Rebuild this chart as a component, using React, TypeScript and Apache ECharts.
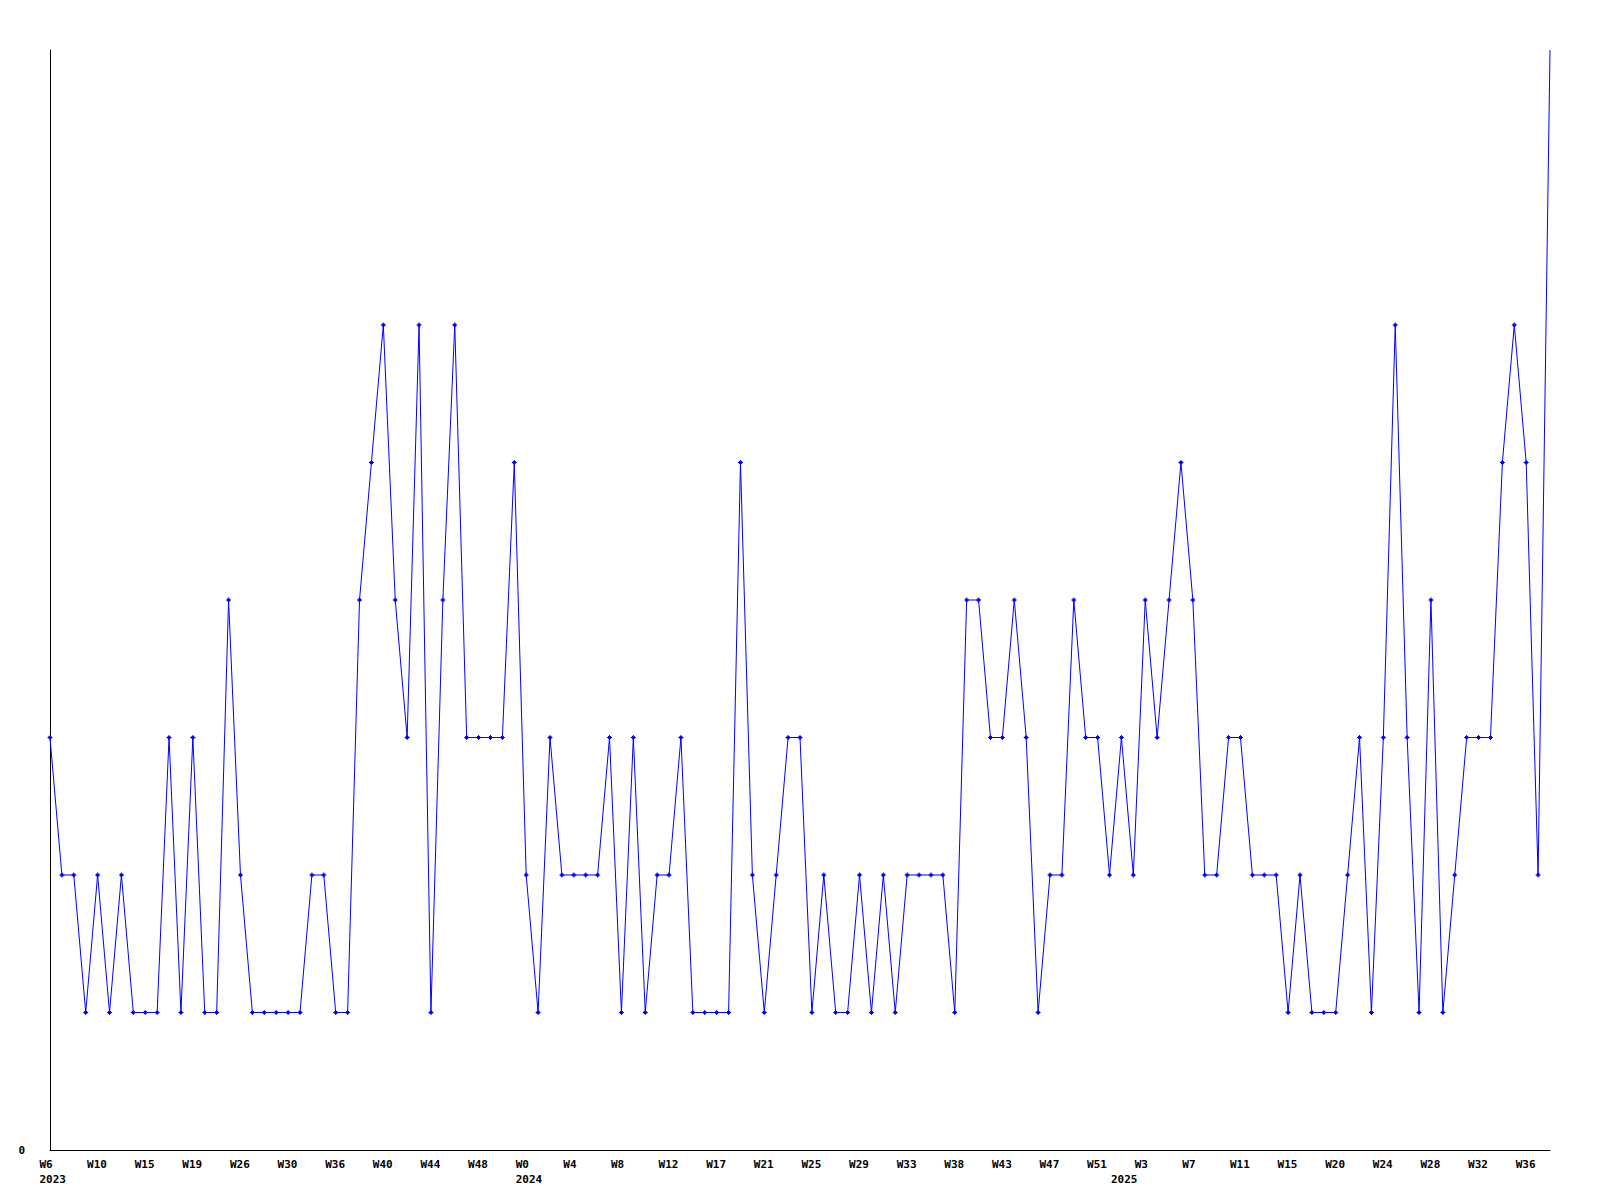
import React, { useEffect, useRef } from "react";
import * as echarts from "echarts";

// Values per data point (127 points)
const values: number[] = [
  3, 2, 2, 1, 2, 1, 2, 1, 1, 1,
  3, 1, 3, 1, 1, 4, 2, 1, 1, 1,
  1, 1, 2, 2, 1, 1, 4, 5, 6, 4,
  3, 6, 1, 4, 6, 3, 3, 3, 3, 5,
  2, 1, 3, 2, 2, 2, 2, 3, 1, 3,
  1, 2, 2, 3, 1, 1, 1, 1, 5, 2,
  1, 2, 3, 3, 1, 2, 1, 1, 2, 1,
  2, 1, 2, 2, 2, 2, 1, 4, 4, 3,
  3, 4, 3, 1, 2, 2, 4, 3, 3, 2,
  3, 2, 4, 3, 4, 5, 4, 2, 2, 3,
  3, 2, 2, 2, 1, 2, 1, 1, 1, 2,
  3, 1, 3, 6, 3, 1, 4, 1, 2, 3,
  3, 3, 5, 6, 5, 2, 8,
];

// Week tick labels, one every 4 points
const weekLabels: string[] = [
  "W6", "W10", "W15", "W19", "W26", "W30", "W36", "W40", "W44", "W48",
  "W0", "W4", "W8", "W12", "W17", "W21", "W25", "W29", "W33", "W38",
  "W43", "W47", "W51", "W3", "W7", "W11", "W15", "W20", "W24", "W28",
  "W32", "W36",
];

// Year labels: [point index, year]
const yearIndices: number[] = [0, 40, 90];
const yearLabels: string[] = ["2023", "2024", "2025"];

const yMin = 0;
const yMax = 8;
const labelEvery = 4;

const FONT = "DejaVu Sans Mono";
const MARKER = "path://M2,0H3V1H4V2H5V3H4V4H3V5H2V4H1V3H0V2H1V1H2Z";

export default function App() {
  const ref = useRef<HTMLDivElement>(null);

  useEffect(() => {
    document.body.style.margin = "0";
    if (!ref.current) return;
    const chart = echarts.init(ref.current, null, { renderer: "svg" });

    const categories = values.map((_, i) => String(i));
    const labelFor = (i: number): string => {
      const yi = yearIndices.indexOf(i);
      const year = yi >= 0 ? yearLabels[yi] : "";
      if (i % labelEvery === 0) {
        const w = weekLabels[i / labelEvery] ?? "";
        return year ? w + "\n" + year : w;
      }
      return year ? "\n" + year : "";
    };

    // points at the very top edge have their marker clipped away in the reference
    const seriesData = values.map((v) =>
      v >= yMax ? { value: v, symbol: "none" } : v
    );

    chart.setOption({
      animation: false,
      backgroundColor: "#ffffff",
      grid: [
        { left: 50, top: 50, width: 1500, height: 1100, containLabel: false },
        { left: 39.5, top: 50, width: 1500, height: 1100, containLabel: false },
      ],
      xAxis: [
        {
          type: "category",
          gridIndex: 0,
          data: categories,
          boundaryGap: false,
          axisLine: { show: true, lineStyle: { color: "#000", width: 1 } },
          axisTick: { show: false },
          axisLabel: { show: false },
          splitLine: { show: false },
        },
        {
          type: "category",
          gridIndex: 1,
          data: categories,
          boundaryGap: false,
          axisLine: { show: false },
          axisTick: { show: false },
          splitLine: { show: false },
          axisLabel: {
            show: true,
            interval: (i: number) =>
              i % labelEvery === 0 || yearIndices.indexOf(i) >= 0,
            formatter: (_v: string, i: number) => labelFor(i),
            align: "left",
            margin: 7,
            lineHeight: 15,
            fontFamily: FONT,
            fontWeight: "bold",
            fontSize: 11,
            color: "#000",
            hideOverlap: false,
          },
        },
      ],
      yAxis: [
        {
          type: "value",
          gridIndex: 0,
          min: yMin,
          max: yMax,
          interval: yMax,
          axisLine: { show: true, lineStyle: { color: "#000", width: 1 } },
          axisTick: { show: false },
          splitLine: { show: false },
          axisLabel: {
            formatter: (v: number) => (v === 0 ? "0" : ""),
            margin: 25,
            fontFamily: FONT,
            fontWeight: "bold",
            fontSize: 11,
            color: "#000",
          },
        },
        {
          type: "value",
          gridIndex: 1,
          min: yMin,
          max: yMax,
          show: false,
        },
      ],
      series: [
        {
          type: "line",
          xAxisIndex: 0,
          yAxisIndex: 0,
          data: seriesData,
          symbol: MARKER,
          symbolSize: 5,
          showAllSymbol: true,
          itemStyle: { color: "#0000ff" },
          lineStyle: { color: "#0000ff", width: 1 },
        },
      ],
    });

    return () => chart.dispose();
  }, []);

  return <div ref={ref} style={{ width: 1600, height: 1200 }} />;
}
